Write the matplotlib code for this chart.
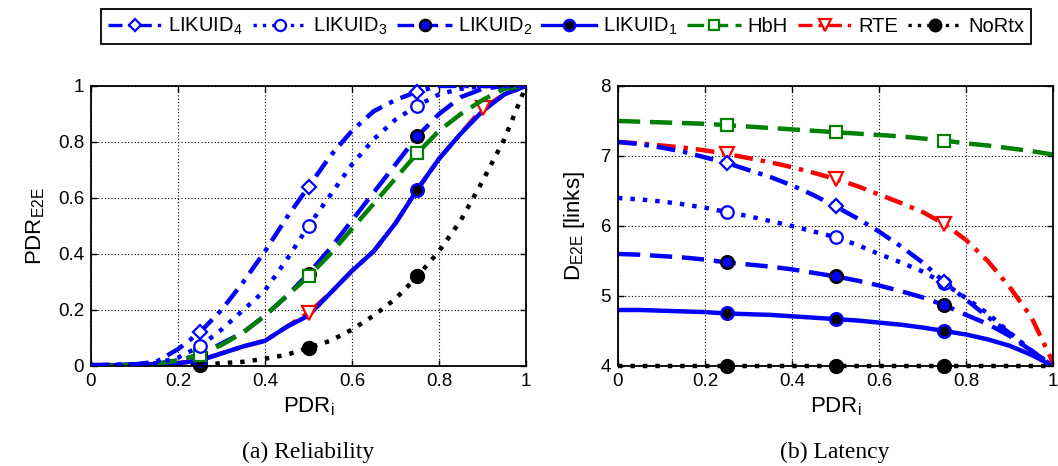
import matplotlib
matplotlib.use("Agg")
import matplotlib.pyplot as plt
from matplotlib.lines import Line2D

# --------------------------------------------------------------------------- #
# Data
# --------------------------------------------------------------------------- #
PDR_I = [0.0, 0.05, 0.1, 0.15, 0.2, 0.25, 0.3, 0.35, 0.4, 0.45, 0.5,
         0.55, 0.6, 0.65, 0.7, 0.75, 0.8, 0.85, 0.9, 0.95, 1.0]

# (a) Reliability: end-to-end PDR
REL_LIKUID4 = [0.003, 0.004, 0.006, 0.015, 0.06, 0.12, 0.20, 0.30, 0.41, 0.53, 0.64,
               0.75, 0.84, 0.91, 0.95, 0.98, 1.0, 1.0, 1.0, 1.0, 1.0]
REL_LIKUID3 = [0.003, 0.004, 0.005, 0.01, 0.03, 0.07, 0.13, 0.20, 0.27, 0.38, 0.50,
               0.61, 0.72, 0.81, 0.88, 0.93, 0.97, 0.99, 1.0, 1.0, 1.0]
REL_LIKUID2 = [0.003, 0.003, 0.005, 0.008, 0.02, 0.04, 0.08, 0.12, 0.18, 0.25, 0.33,
               0.42, 0.52, 0.62, 0.72, 0.82, 0.90, 0.96, 0.99, 1.0, 1.0]
REL_LIKUID1 = [0.003, 0.003, 0.005, 0.007, 0.01, 0.02, 0.045, 0.07, 0.09, 0.14, 0.18,
               0.26, 0.34, 0.41, 0.51, 0.63, 0.74, 0.83, 0.91, 0.97, 1.0]
REL_HBH = [0.002, 0.003, 0.004, 0.007, 0.02, 0.04, 0.075, 0.12, 0.18, 0.25, 0.32,
           0.40, 0.49, 0.58, 0.67, 0.76, 0.84, 0.90, 0.95, 0.99, 1.0]
REL_RTE = [0.003, 0.003, 0.005, 0.007, 0.01, 0.02, 0.045, 0.07, 0.09, 0.14, 0.19,
           0.26, 0.34, 0.41, 0.51, 0.63, 0.74, 0.83, 0.92, 0.97, 1.0]
REL_NORTX = [0.0, 0.0, 0.0, 0.0, 0.002, 0.004, 0.01, 0.015, 0.026, 0.04, 0.065,
             0.09, 0.13, 0.18, 0.24, 0.32, 0.41, 0.52, 0.66, 0.81, 1.0]

# (b) Latency: end-to-end delay in links
LAT_LIKUID4 = [7.20, 7.17, 7.12, 7.06, 6.98, 6.90, 6.80, 6.70, 6.58, 6.44, 6.28,
               6.11, 5.92, 5.71, 5.48, 5.20, 4.95, 4.70, 4.47, 4.22, 4.00]
LAT_LIKUID3 = [6.40, 6.38, 6.35, 6.31, 6.26, 6.20, 6.14, 6.07, 6.00, 5.92, 5.84,
               5.73, 5.60, 5.48, 5.35, 5.18, 4.97, 4.75, 4.48, 4.22, 4.00]
LAT_LIKUID2 = [5.60, 5.59, 5.57, 5.55, 5.52, 5.48, 5.45, 5.42, 5.38, 5.33, 5.28,
               5.22, 5.15, 5.07, 4.98, 4.87, 4.73, 4.60, 4.43, 4.22, 4.00]
LAT_LIKUID1 = [4.80, 4.80, 4.79, 4.78, 4.77, 4.75, 4.74, 4.73, 4.71, 4.69, 4.67,
               4.65, 4.62, 4.59, 4.55, 4.50, 4.45, 4.38, 4.29, 4.16, 4.00]
LAT_HBH = [7.50, 7.49, 7.48, 7.47, 7.46, 7.44, 7.42, 7.40, 7.38, 7.36, 7.34,
           7.32, 7.30, 7.28, 7.25, 7.22, 7.18, 7.15, 7.11, 7.07, 7.02]
LAT_RTE = [7.20, 7.18, 7.15, 7.12, 7.08, 7.03, 6.97, 6.91, 6.84, 6.76, 6.67,
           6.57, 6.45, 6.33, 6.20, 6.03, 5.80, 5.50, 5.13, 4.70, 4.05]
LAT_NORTX = [4.0] * len(PDR_I)

X_TICKS = [0, 0.2, 0.4, 0.6, 0.8, 1]
X_TICKLABELS = ["0", "0.2", "0.4", "0.6", "0.8", "1"]
REL_TICKS = [0, 0.2, 0.4, 0.6, 0.8, 1]
REL_TICKLABELS = ["0", "0.2", "0.4", "0.6", "0.8", "1"]
LAT_TICKS = [4, 5, 6, 7, 8]
LAT_TICKLABELS = ["4", "5", "6", "7", "8"]

# --------------------------------------------------------------------------- #
# Styling
# --------------------------------------------------------------------------- #
BLUE, GREEN, RED, BLACK = "#0000FF", "#008000", "#FF0000", "#000000"
LW = 3.2
MS = 9
DOT = (0, (1, 1.8))
DASH = (0, (5, 2.2))
DASHDOT = (0, (4.2, 1.8, 1, 1.8))

STYLES = {
    "LIKUID4": dict(color=BLUE, ls=DASHDOT, marker="D", ms=MS - 1.5, mfc="white", mec=BLUE, mew=1.6),
    "LIKUID3": dict(color=BLUE, ls=DOT, marker="o", ms=MS, mfc="white", mec=BLUE, mew=1.6),
    "LIKUID2": dict(color=BLUE, ls=DASH, marker="o", ms=MS, mfc=BLUE, mec=BLACK, mew=1.8),
    "LIKUID1": dict(color=BLUE, ls="-", marker="o", ms=MS, mfc=BLACK, mec=BLUE, mew=1.8),
    "HbH": dict(color=GREEN, ls=DASH, marker="s", ms=MS - 0.5, mfc="white", mec=GREEN, mew=1.6),
    "RTE": dict(color=RED, ls=DASHDOT, marker="v", ms=MS + 1, mfc="white", mec=RED, mew=1.6),
    "NoRtx": dict(color=BLACK, ls=DOT, marker="o", ms=MS + 1, mfc=BLACK, mec=BLACK, mew=1.0),
}
LABELS = {
    "LIKUID4": r"LIKUID$_4$", "LIKUID3": r"LIKUID$_3$",
    "LIKUID2": r"LIKUID$_2$", "LIKUID1": r"LIKUID$_1$",
    "HbH": "HbH", "RTE": "RTE", "NoRtx": "NoRtx",
}
ORDER = ["LIKUID4", "LIKUID3", "LIKUID2", "LIKUID1", "HbH", "RTE", "NoRtx"]

plt.rcParams["font.family"] = ["Liberation Sans", "DejaVu Sans"]
plt.rcParams["mathtext.fontset"] = "custom"
plt.rcParams["mathtext.rm"] = "Liberation Sans"
plt.rcParams["mathtext.it"] = "Liberation Sans:italic"
plt.rcParams["mathtext.default"] = "regular"

TICK_FS = 13.5
LABEL_FS = 16
LEGEND_FS = 14.5
CAPTION_FS = 17


def draw(ax, key, y, marks, z=2):
    st = dict(STYLES[key])
    ax.plot(PDR_I, y, color=st["color"], ls=st["ls"], lw=LW, zorder=z,
            solid_capstyle="butt", dash_capstyle="butt")
    xs = [PDR_I[i] for i in marks]
    ys = [y[i] for i in marks]
    ax.plot(xs, ys, ls="none", marker=st["marker"], ms=st["ms"], mfc=st["mfc"],
            mec=st["mec"], mew=st["mew"], zorder=z + 0.5, clip_on=False)


def style_axes(ax, yticks, yticklabels, ylim):
    ax.set_xlim(0, 1)
    ax.set_ylim(*ylim)
    ax.set_xticks(X_TICKS)
    ax.set_xticklabels(X_TICKLABELS)
    ax.set_yticks(yticks)
    ax.set_yticklabels(yticklabels)
    ax.grid(True, color="black", ls=(0, (1, 2)), lw=0.8)
    ax.tick_params(direction="in", top=True, right=True, labelsize=TICK_FS,
                   length=4, width=1.0, pad=5)
    for sp in ax.spines.values():
        sp.set_linewidth(1.3)
        sp.set_zorder(3)
    ax.set_xlabel(r"PDR$_i$", fontsize=LABEL_FS, labelpad=4)


fig = plt.figure(figsize=(10.58, 4.66), dpi=100)
ax1 = fig.add_axes([0.086, 0.2146, 0.4112, 0.6009])
ax2 = fig.add_axes([0.5841, 0.2146, 0.4112, 0.6009])

M = [5, 10, 15]

# (a) Reliability
draw(ax1, "NoRtx", REL_NORTX, M, z=2)
draw(ax1, "RTE", REL_RTE, [10, 18], z=2.2)
draw(ax1, "LIKUID1", REL_LIKUID1, [5, 15], z=2.4)
draw(ax1, "LIKUID2", REL_LIKUID2, M, z=2.6)
draw(ax1, "HbH", REL_HBH, M, z=2.8)
draw(ax1, "LIKUID3", REL_LIKUID3, M, z=3.0)
draw(ax1, "LIKUID4", REL_LIKUID4, M, z=3.2)
style_axes(ax1, REL_TICKS, REL_TICKLABELS, (0, 1))
ax1.set_ylabel(r"PDR$_{E2E}$", fontsize=LABEL_FS, labelpad=8)

# (b) Latency
draw(ax2, "LIKUID1", LAT_LIKUID1, M, z=2.0)
draw(ax2, "LIKUID2", LAT_LIKUID2, M, z=2.2)
draw(ax2, "LIKUID3", LAT_LIKUID3, M, z=2.4)
draw(ax2, "LIKUID4", LAT_LIKUID4, M, z=2.6)
draw(ax2, "RTE", LAT_RTE, M, z=2.5)
draw(ax2, "HbH", LAT_HBH, M, z=2.8)
draw(ax2, "NoRtx", LAT_NORTX, M, z=4)
ax2.lines[-2].set_clip_on(False)
style_axes(ax2, LAT_TICKS, LAT_TICKLABELS, (4, 8))
ax2.set_ylabel(r"D$_{E2E}$ [links]", fontsize=LABEL_FS, labelpad=10)

# Legend on top of both panels
handles = []
for k in ORDER:
    st = STYLES[k]
    handles.append(Line2D([], [], color=st["color"], ls=st["ls"], lw=LW - 0.8,
                          marker=st["marker"], ms=st["ms"] - 1, mfc=st["mfc"],
                          mec=st["mec"], mew=st["mew"], label=LABELS[k]))
leg = fig.legend(handles=handles, loc="center", bbox_to_anchor=(0.535, 0.943),
                 ncol=7, fontsize=LEGEND_FS, frameon=True, fancybox=False,
                 edgecolor="black", framealpha=1.0, handlelength=2.7,
                 handletextpad=0.3, columnspacing=0.5, borderpad=0.35,
                 borderaxespad=0.0)
leg.get_frame().set_linewidth(1.3)

# Sub-captions
fig.text(0.291, 1 - 452 / 466, "(a) Reliability", ha="center", va="center",
         fontsize=CAPTION_FS, family="Liberation Serif")
fig.text(0.789, 1 - 452 / 466, "(b) Latency", ha="center", va="center",
         fontsize=CAPTION_FS, family="Liberation Serif")

fig.savefig("out.png", dpi=100)
